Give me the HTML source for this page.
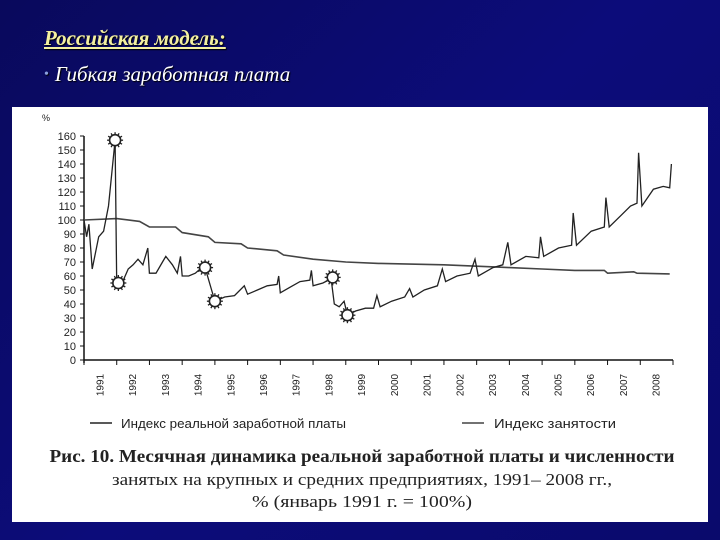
<!DOCTYPE html>
<html><head><meta charset="utf-8"><style>
html,body{margin:0;padding:0;width:720px;height:540px;overflow:hidden}
body{background:linear-gradient(135deg,#09095c 0%,#0c0c7a 50%,#0a0a6c 100%);position:relative;font-family:"Liberation Serif",serif}
#title{position:absolute;left:44px;top:26px;font-size:21px;font-style:italic;font-weight:bold;color:#f4f0a0;text-decoration:underline;margin:0;text-shadow:1px 1px 1px #000}
#bullet{position:absolute;left:44px;top:62px;font-size:21px;font-style:italic;color:#fff;text-shadow:1px 1px 1px #000}
#bullet span{color:#8aa0e0;font-style:normal;font-size:14px;margin-right:6px;vertical-align:3px}
#panel{position:absolute;left:12px;top:107px;width:696px;height:415px;background:#fff}
</style></head><body>
<h1 id="title">Российская модель:</h1>
<div id="bullet"><span>•</span>Гибкая заработная плата</div>
<div id="panel">
<svg id="chart" width="696" height="415" style="position:absolute;left:0;top:0"></svg>
</div>
<script>
const yTicks=[0,10,20,30,40,50,60,70,80,90,100,110,120,130,140,150,160];
const years=[1991,1992,1993,1994,1995,1996,1997,1998,1999,2000,2001,2002,2003,2004,2005,2006,2007,2008];
const empT=[1991,1992,1992.7,1993,1993.8,1994,1994.8,1995,1995.8,1996,1996.9,1997.1,1998,1999,2000,2002,2003,2004,2005,2006,2006.9,2007,2007.8,2007.9,2008.9];
const empV=[100,101,99,95,95,91,88,84,83,80,78,75,72,70,69,68,67,66,65,64,64,62,63,62,61.5];
const wageT=[1991,1991.08,1991.15,1991.25,1991.45,1991.6,1991.75,1991.95,1992.0,1992.2,1992.35,1992.5,1992.65,1992.8,1992.95,1993.0,1993.2,1993.4,1993.5,1993.7,1993.85,1993.95,1994.0,1994.2,1994.4,1994.6,1994.75,1994.9,1995.0,1995.3,1995.6,1995.9,1996.0,1996.3,1996.6,1996.9,1996.95,1997.0,1997.3,1997.6,1997.9,1997.95,1998.0,1998.3,1998.55,1998.65,1998.8,1998.95,1999.05,1999.3,1999.6,1999.85,1999.95,2000.05,2000.4,2000.8,2000.95,2001.05,2001.4,2001.8,2001.95,2002.05,2002.4,2002.8,2002.95,2003.05,2003.5,2003.8,2003.95,2004.05,2004.5,2004.9,2004.95,2005.05,2005.5,2005.9,2005.95,2006.05,2006.5,2006.9,2006.95,2007.05,2007.4,2007.7,2007.9,2007.95,2008.05,2008.4,2008.7,2008.9,2008.95];
const wageV=[100,88,97,65,88,92,110,157,55,57,65,68,72,68,80,62,62,70,74,68,62,74,60,60,62,66,62,50,42,45,46,53,47,50,53,54,60,48,52,56,57,64,53,55,58,40,38,42,32,35,37,37,46,38,42,45,51,45,50,53,65,56,60,62,72,60,66,68,84,68,74,73,88,74,80,82,105,82,92,95,116,95,103,110,112,148,110,122,124,123,140];
const markT=[1991.95,1992.05,1994.7,1995.0,1998.6,1999.05];
const markV=[157,55,66,42,59,32];
const legendLabels=["Индекс реальной заработной платы","Индекс занятости"];
const captionLines=["Рис. 10. Месячная динамика реальной заработной платы и численности","занятых на крупных и средних предприятиях, 1991– 2008 гг.,","% (январь 1991 г. = 100%)"];

const NS="http://www.w3.org/2000/svg";
const svg=document.getElementById('chart');
const X0=72,X1=661,Y0=253,PY=1.4;
const sx=t=>X0+(t-1991)*(X1-X0)/18;
const sy=v=>Y0-v*PY;
function mk(tag,attrs,parent){const e=document.createElementNS(NS,tag);for(const k in attrs)e.setAttribute(k,attrs[k]);(parent||svg).appendChild(e);return e;}
const F='"Liberation Sans",sans-serif';
let e=mk('text',{x:30,y:14,'font-size':9,'font-family':F,fill:'#222'});e.textContent='%';


e=mk('line',{x1:X0,y1:sy(160),x2:X0,y2:Y0+3,stroke:'#111','stroke-width':1.5});


e=mk('line',{x1:X0,y1:Y0,x2:X1,y2:Y0,stroke:'#111','stroke-width':1.5});


yTicks.forEach(v=>{
 mk('line',{x1:X0-4,y1:sy(v),x2:X0,y2:sy(v),stroke:'#111'});
 const t=mk('text',{x:X0-8,y:sy(v)+4,'font-size':11,'font-family':F,'text-anchor':'end',fill:'#222'});t.textContent=v;
 
 
});
years.forEach(y=>{
 mk('line',{x1:sx(y),y1:Y0,x2:sx(y),y2:Y0+5,stroke:'#111'});
 const cx=sx(y+0.5);
 const t=mk('text',{x:0,y:0,'font-size':10,'font-family':F,'text-anchor':'middle',fill:'#222',transform:`translate(${cx+3},${Y0+25}) rotate(-90)`});t.textContent=y;
 
 
});
mk('line',{x1:X1,y1:Y0,x2:X1,y2:Y0+5,stroke:'#111'});
let d=empT.map((t,i)=>(i?'L':'M')+sx(t).toFixed(1)+','+sy(empV[i]).toFixed(1)).join('');
e=mk('path',{d,fill:'none',stroke:'#444','stroke-width':1.6});


d=wageT.map((t,i)=>(i?'L':'M')+sx(t).toFixed(1)+','+sy(wageV[i]).toFixed(1)).join('');
e=mk('path',{d,fill:'none',stroke:'#222','stroke-width':1.3});


markT.forEach((t,i)=>{
 const cx=sx(t),cy=sy(markV[i]);
 const g=mk('g',{});
 
 
 for(let k=0;k<12;k++){const a=k*Math.PI/6;mk('line',{x1:cx+5*Math.cos(a),y1:cy+5*Math.sin(a),x2:cx+8*Math.cos(a),y2:cy+8*Math.sin(a),stroke:'#222','stroke-width':1.3},g);}
 mk('circle',{cx,cy,r:5.5,fill:'#fff',stroke:'#222','stroke-width':1.6},g);
});
const lg=mk('g',{});


mk('line',{x1:78,y1:316,x2:100,y2:316,stroke:'#222','stroke-width':1.5},lg);
e=mk('text',{x:109,y:321,'font-size':13,'font-family':F,fill:'#222',textLength:225,lengthAdjust:'spacingAndGlyphs'},lg);e.textContent=legendLabels[0];


mk('line',{x1:450,y1:316,x2:472,y2:316,stroke:'#444','stroke-width':1.5},lg);
e=mk('text',{x:482,y:321,'font-size':13,'font-family':F,fill:'#222',textLength:122,lengthAdjust:'spacingAndGlyphs'},lg);e.textContent=legendLabels[1];


const cy=[355,378,400],cw=[625,500,220];
captionLines.forEach((s,i)=>{
 const t=mk('text',{x:350,y:cy[i],'font-size':i?17:18,'font-family':'"Liberation Serif",serif','font-weight':i?'normal':'bold','text-anchor':'middle',fill:'#222',textLength:cw[i],lengthAdjust:'spacingAndGlyphs'});
 t.textContent=s;
 
 
});
</script>
</body></html>
